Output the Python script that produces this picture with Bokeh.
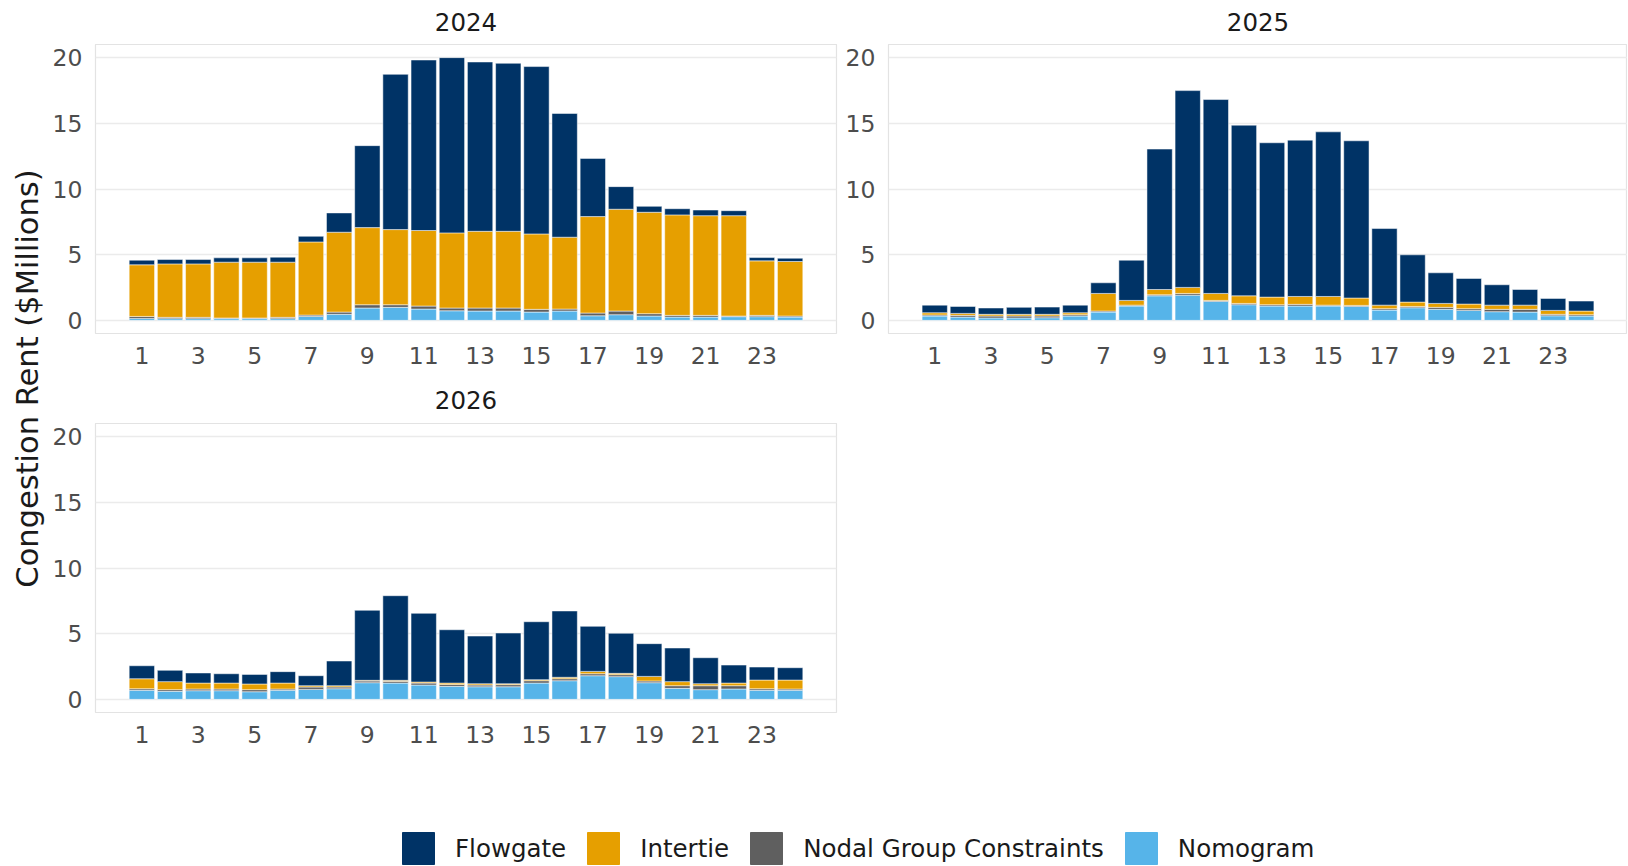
from bokeh.plotting import figure
from bokeh.models import Range1d, Label, Legend, LegendItem, FixedTicker
from bokeh.layouts import row, column
from bokeh.embed import file_html
from bokeh.resources import INLINE

hours = list(range(1, 25))
categories = ["Nomogram", "Nodal Group Constraints", "Intertie", "Flowgate"]
colors = {"Flowgate": "#003366", "Intertie": "#E69F00",
          "Nodal Group Constraints": "#5F5F5F", "Nomogram": "#56B4E9"}
legend_order = ["Flowgate", "Intertie", "Nodal Group Constraints", "Nomogram"]
y_ticks = [0, 5, 10, 15, 20]
x_ticks = [1, 3, 5, 7, 9, 11, 13, 15, 17, 19, 21, 23]
years = ["2024", "2025", "2026"]

# ---- 2024 ($Millions) ----
nomogram_2024 = [0.15, 0.13, 0.13, 0.13, 0.13, 0.13, 0.30, 0.46, 0.94, 0.99, 0.86, 0.73,
                 0.71, 0.71, 0.63, 0.71, 0.35, 0.43, 0.33, 0.25, 0.25, 0.28, 0.28, 0.25]
nodal_2024 = [0.15, 0.10, 0.10, 0.05, 0.05, 0.10, 0.10, 0.17, 0.25, 0.20, 0.23, 0.21,
              0.23, 0.23, 0.21, 0.15, 0.21, 0.28, 0.18, 0.13, 0.13, 0.05, 0.10, 0.08]
intertie_2024 = [3.93, 4.07, 4.07, 4.25, 4.25, 4.20, 5.57, 6.08, 5.87, 5.72, 5.75, 5.72,
                 5.84, 5.84, 5.74, 5.47, 7.34, 7.75, 7.72, 7.65, 7.59, 7.64, 4.15, 4.15]
flowgate_2024 = [0.35, 0.33, 0.33, 0.33, 0.33, 0.38, 0.43, 1.47, 6.24, 11.82, 12.98, 13.34,
                 12.89, 12.79, 12.74, 9.42, 4.43, 1.72, 0.45, 0.47, 0.43, 0.38, 0.25, 0.25]

# ---- 2025 ----
nomogram_2025 = [0.33, 0.25, 0.18, 0.18, 0.20, 0.33, 0.63, 1.09, 1.87, 1.92, 1.44, 1.19,
                 1.09, 1.09, 1.09, 1.06, 0.78, 0.96, 0.84, 0.76, 0.66, 0.63, 0.35, 0.33]
nodal_2025 = [0.08, 0.13, 0.15, 0.15, 0.13, 0.10, 0.08, 0.07, 0.08, 0.13, 0.08, 0.10,
              0.10, 0.13, 0.07, 0.08, 0.11, 0.10, 0.15, 0.13, 0.18, 0.21, 0.11, 0.10]
intertie_2025 = [0.17, 0.15, 0.13, 0.13, 0.13, 0.15, 1.34, 0.36, 0.40, 0.46, 0.53, 0.58,
                 0.58, 0.60, 0.66, 0.56, 0.27, 0.33, 0.30, 0.35, 0.32, 0.32, 0.30, 0.28]
flowgate_2025 = [0.58, 0.53, 0.48, 0.53, 0.55, 0.58, 0.81, 3.06, 10.69, 14.98, 14.76, 12.99,
                 11.75, 11.90, 12.53, 11.97, 5.83, 3.60, 2.33, 1.95, 1.55, 1.19, 0.91, 0.76]

# ---- 2026 ----
nomogram_2026 = [0.69, 0.61, 0.66, 0.66, 0.58, 0.69, 0.76, 0.81, 1.27, 1.24, 1.09, 0.99,
                 0.96, 0.96, 1.24, 1.42, 1.80, 1.73, 1.27, 0.84, 0.74, 0.79, 0.69, 0.69]
nodal_2026 = [0.12, 0.13, 0.13, 0.13, 0.16, 0.10, 0.18, 0.13, 0.13, 0.13, 0.15, 0.15,
              0.13, 0.16, 0.18, 0.15, 0.15, 0.15, 0.13, 0.20, 0.30, 0.25, 0.12, 0.10]
intertie_2026 = [0.76, 0.61, 0.45, 0.45, 0.43, 0.45, 0.10, 0.10, 0.05, 0.08, 0.08, 0.10,
                 0.10, 0.07, 0.08, 0.11, 0.18, 0.10, 0.35, 0.31, 0.15, 0.20, 0.66, 0.68]
flowgate_2026 = [0.99, 0.86, 0.77, 0.71, 0.73, 0.87, 0.76, 1.88, 5.33, 6.44, 5.23, 4.06,
                 3.63, 3.86, 4.41, 5.05, 3.43, 3.05, 2.49, 2.56, 1.98, 1.37, 0.99, 0.94]

series = {
    "2024": {"Nomogram": nomogram_2024, "Nodal Group Constraints": nodal_2024,
             "Intertie": intertie_2024, "Flowgate": flowgate_2024},
    "2025": {"Nomogram": nomogram_2025, "Nodal Group Constraints": nodal_2025,
             "Intertie": intertie_2025, "Flowgate": flowgate_2025},
    "2026": {"Nomogram": nomogram_2026, "Nodal Group Constraints": nodal_2026,
             "Intertie": intertie_2026, "Flowgate": flowgate_2026},
}

FONT = "DejaVu Sans"
FRAME_H = 289


def blank(width, height):
    f = figure(width=width, height=height, output_backend="svg", toolbar_location=None,
               min_border=0, x_range=Range1d(0, width), y_range=Range1d(0, height),
               outline_line_color=None, border_fill_color="white",
               background_fill_color="white")
    f.axis.visible = False
    f.grid.visible = False
    return f


def title_strip(text, frame_w, mbl, mbr, height, y):
    # strip with the same frame geometry as the panel below it
    f = figure(frame_width=frame_w, frame_height=height, output_backend="svg",
               toolbar_location=None, min_border_left=mbl, min_border_right=mbr,
               min_border_top=0, min_border_bottom=0,
               x_range=Range1d(0, 1), y_range=Range1d(0, height),
               outline_line_color=None, border_fill_color="white",
               background_fill_color="white")
    f.axis.visible = False
    f.grid.visible = False
    f.title.visible = False
    f.add_layout(Label(x=0.5, y=y, text=text,
                       text_align="center", text_baseline="middle",
                       text_font=FONT, text_font_size="24.5px",
                       text_color="#1a1a1a"))
    return f


def make_panel(year, frame_w, mbl, mbr, mbb):
    p = figure(frame_width=frame_w, frame_height=FRAME_H,
               x_range=Range1d(-0.645, 25.645), y_range=Range1d(-1, 21),
               output_backend="svg", toolbar_location=None,
               min_border_left=mbl, min_border_right=mbr,
               min_border_top=0, min_border_bottom=mbb,
               background_fill_color="white", border_fill_color="white")
    src = dict(hour=hours)
    src.update(series[year])
    rs = p.vbar_stack(categories, x="hour", width=0.9, source=src,
                      color=[colors[c] for c in categories],
                      line_color="white", line_width=0.5)
    p.title.visible = False
    p.outline_line_color = "#e3e3e3"
    p.outline_line_width = 1.2
    p.xgrid.visible = False
    p.ygrid.grid_line_color = "#ebebeb"
    p.ygrid.grid_line_width = 1.6
    p.ygrid.ticker = FixedTicker(ticks=y_ticks)
    for ax, ticks, stand in ((p.xaxis, x_ticks, 13), (p.yaxis, y_ticks, 13)):
        ax.ticker = FixedTicker(ticks=ticks)
        ax.axis_line_color = None
        ax.major_tick_line_color = None
        ax.minor_tick_line_color = None
        ax.major_tick_out = 0
        ax.major_tick_in = 0
        ax.minor_tick_out = 0
        ax.minor_tick_in = 0
        ax.major_label_text_font = FONT
        ax.major_label_text_font_size = "23.5px"
        ax.major_label_text_color = "#4d4d4d"
        ax.major_label_standoff = stand
    return p, rs


LAB_W = 48
p1, _ = make_panel("2024", 741, 47, 2, 45)
p2, _ = make_panel("2025", 739, 50, 0, 45)
p3, rs3 = make_panel("2026", 741, 47, 791, 100)

s1a = title_strip(years[0], 741, 47, 2, 44, 23)
s1b = title_strip(years[1], 739, 50, 0, 44, 23)
s3 = title_strip(years[2], 741, 47, 791, 45, 24)

# legend strip (swatch renderers lie outside the visible range)
leg = blank(1627, 53)
dummy = {}
for c in categories:
    dummy[c] = leg.vbar(x=[-50], top=[-50], bottom=[-60], width=5, color=colors[c])
legend = Legend(items=[LegendItem(label=c, renderers=[dummy[c]]) for c in legend_order],
                orientation="horizontal", location=(398, -3),
                glyph_width=40, glyph_height=40, label_standoff=17, spacing=17,
                padding=0, margin=0, border_line_color=None,
                background_fill_alpha=0,
                label_text_font=FONT, label_text_font_size="24.5px",
                label_text_color="#1a1a1a")
leg.add_layout(legend, "center")

lab = blank(LAB_W, 812)
lab.add_layout(Label(x=27, y=434, x_units="screen", y_units="screen",
                     text="Congestion Rent ($Millions)", angle=1.5707963,
                     text_align="center", text_baseline="middle",
                     text_font=FONT, text_font_size="30.5px", text_color="#1a1a1a"))

layout = column(row(lab, column(row(s1a, s1b), row(p1, p2), s3, p3)), leg)
open("out.html", "w").write(file_html(layout, INLINE))
